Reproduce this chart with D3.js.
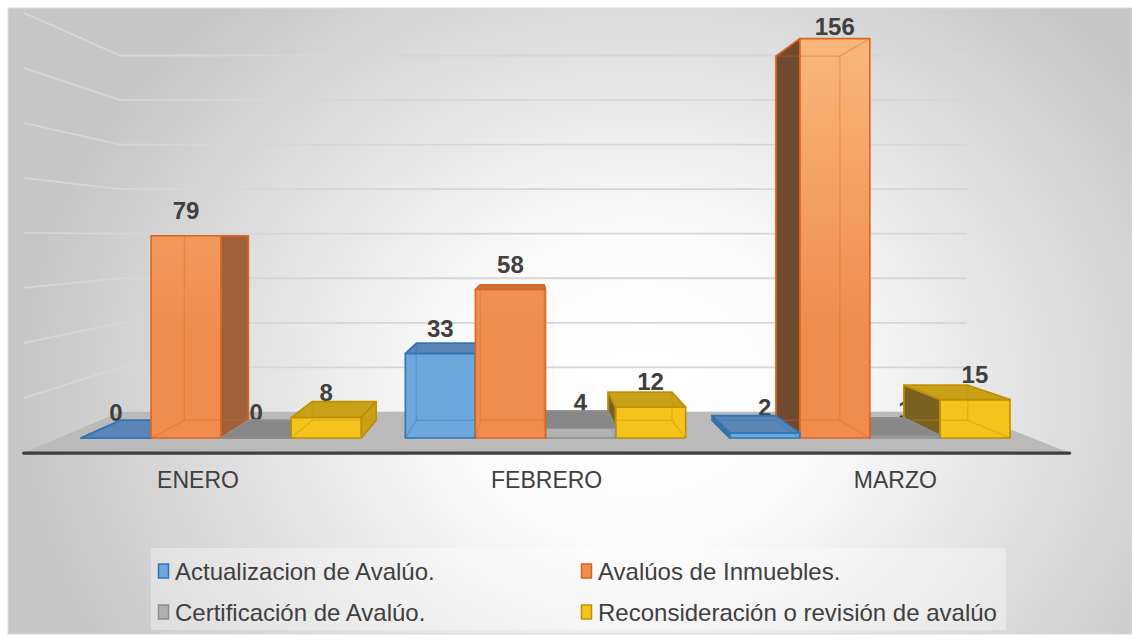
<!DOCTYPE html>
<html>
<head>
<meta charset="utf-8">
<script src="https://cdn.jsdelivr.net/npm/d3@7"></script>
<style>
  body { margin: 0; background: #fff; }
  text { font-family: "Liberation Sans", Arial, sans-serif; }
</style>
</head>
<body>
<script>
var months = ["ENERO", "FEBRERO", "MARZO"];
var seriesNames = [
    "Actualizacion de Avalúo.",
    "Avalúos de Inmuebles.",
    "Certificación de Avalúo.",
    "Reconsideración o revisión de avalúo"
];
var actualizacion = [0, 33, 2];
var avaluos = [79, 58, 156];
var certificacion = [0, 4, 1];
var reconsideracion = [8, 12, 15];
var gridTicks = [20, 40, 60, 80, 100, 120, 140, 160];

function init() {
    var w = 1132;
    var h = 642;
    var values = [actualizacion, avaluos, certificacion, reconsideracion];

    // face colours per series
    var styles = [
        { front: "#6ea7db", top: "#5a86b4", left: "#3f6f9e", right: "#4a7aa8", stroke: "#2e75b6" },
        { front: "url(#orangeGrad)", top: "#c8733d", left: "#72492e", right: "#a0613a", stroke: "#d9661f" },
        { front: "#b2b2b2", top: "#878787", left: "#6e6e6e", right: "#7d7d7d", stroke: "#8c8c8c" },
        { front: "#f6c31c", top: "#c9a01a", left: "#7b6122", right: "#c9a01a", stroke: "#bf9000" }
    ];

    // simple perspective: vanishing point and depth factors
    var vx = 530, vy = 237;
    var kFront = 1.075, kWall = 0.87, kBar = 0.912;
    function P(X, Y, k) { return [vx + k * (X - vx), vy + k * (Y - vy)]; }

    var x0 = d3.scaleBand().domain(months).range([59, 1032]);
    var gap = 44;
    var x1 = d3.scaleBand().domain(d3.range(4)).range([gap / 2, x0.bandwidth() - gap / 2]);
    var y = d3.scaleLinear().domain([0, 160]).range([438, 28.4]);

    var svg = d3.select("body")
        .append("svg")
        .attr("width", w)
        .attr("height", h);

    var defs = svg.append("defs");
    var bg = defs.append("radialGradient")
        .attr("id", "bgGrad")
        .attr("gradientUnits", "userSpaceOnUse")
        .attr("cx", 640).attr("cy", 390).attr("r", 620)
        .attr("gradientTransform", "translate(640,390) scale(1,0.85) translate(-640,-390)");
    bg.append("stop").attr("offset", "0").attr("stop-color", "#ffffff");
    bg.append("stop").attr("offset", "0.3").attr("stop-color", "#fbfbfb");
    bg.append("stop").attr("offset", "1").attr("stop-color", "#c6c6c6");

    var og = defs.append("linearGradient")
        .attr("id", "orangeGrad")
        .attr("gradientUnits", "userSpaceOnUse")
        .attr("x1", 0).attr("y1", 30).attr("x2", 0).attr("y2", 330);
    og.append("stop").attr("offset", "0").attr("stop-color", "#f9b87c");
    og.append("stop").attr("offset", "1").attr("stop-color", "#ef8c4e");

    svg.append("rect")
        .attr("x", 8).attr("y", 8)
        .attr("width", w - 8).attr("height", 626)
        .attr("fill", "url(#bgGrad)")
        .attr("stroke", "#d9d9d9");

    var line = d3.line();

    // gridlines on the back wall and the left wall
    var grid = svg.append("g")
        .attr("stroke", "#d6d6d6")
        .attr("stroke-width", 1.8)
        .attr("fill", "none");
    gridTicks.forEach(function (v) {
        grid.append("path").attr("d", line([
            P(59, y(v), kFront), P(59, y(v), kWall), P(1032, y(v), kWall)
        ]));
    });

    // floor
    svg.append("path")
        .attr("d", line([
            P(59, y(0), kFront), P(1032, y(0), kFront),
            P(1032, y(0), kWall), P(59, y(0), kWall)
        ]) + "Z")
        .attr("fill", "#bababa");
    svg.append("path")
        .attr("d", line([P(59, y(0), kFront), P(1032, y(0), kFront)]))
        .attr("stroke", "#3f3f3f")
        .attr("stroke-width", 3.2)
        .attr("stroke-linecap", "round");

    // category labels, placed on the front edge of the floor
    svg.selectAll(".cat")
        .data(months)
        .enter()
        .append("text")
        .attr("x", function (d) { return P(x0(d) + x0.bandwidth() / 2, 0, kFront)[0]; })
        .attr("y", 488)
        .attr("text-anchor", "middle")
        .attr("font-size", 23)
        .attr("fill", "#404040")
        .text(function (d) { return d; });

    // build bar list
    var bars = [];
    months.forEach(function (m, i) {
        for (var s = 0; s < 4; s++) {
            var X0 = x0(m) + x1(s);
            bars.push({ s: s, v: values[s][i], X0: X0, X1: X0 + x1.bandwidth() });
        }
    });

    // data labels (drawn first, bars may cover them as in the original)
    svg.selectAll(".lbl")
        .data(bars)
        .enter()
        .append("text")
        .attr("x", function (d) { return (d.X0 + d.X1) / 2; })
        .attr("y", function (d) { return Math.max(y(d.v) - 17, 35); })
        .attr("text-anchor", "middle")
        .attr("font-size", 24)
        .attr("font-weight", "bold")
        .attr("fill", "#404040")
        .text(function (d) { return d.v; });

    // painter order: bars furthest from the vanishing point first
    bars.sort(function (a, b) {
        return Math.abs((b.X0 + b.X1) / 2 - vx) - Math.abs((a.X0 + a.X1) / 2 - vx);
    });

    bars.forEach(function (d) {
        var st = styles[d.s];
        var Yt = y(d.v), Yb = y(0);
        var g = svg.append("g");
        var faces = [];
        faces.push({ pts: [P(d.X0, Yt, 1), P(d.X1, Yt, 1), P(d.X1, Yb, 1), P(d.X0, Yb, 1)], fill: st.front });
        if (Yt > vy) {
            faces.push({ pts: [P(d.X0, Yt, 1), P(d.X1, Yt, 1), P(d.X1, Yt, kBar), P(d.X0, Yt, kBar)], fill: st.top });
        }
        if (d.X1 < vx) {
            faces.push({ pts: [P(d.X1, Yt, 1), P(d.X1, Yt, kBar), P(d.X1, Yb, kBar), P(d.X1, Yb, 1)], fill: st.right });
        }
        if (d.X0 > vx) {
            faces.push({ pts: [P(d.X0, Yt, 1), P(d.X0, Yt, kBar), P(d.X0, Yb, kBar), P(d.X0, Yb, 1)], fill: st.left });
        }
        // opaque base
        faces.forEach(function (f) {
            g.append("path").attr("d", line(f.pts) + "Z").attr("fill", f.fill);
        });
        // hidden edges seen through the glassy faces
        var back = [P(d.X0, Yt, kBar), P(d.X1, Yt, kBar), P(d.X1, Yb, kBar), P(d.X0, Yb, kBar)];
        var fr = [P(d.X0, Yt, 1), P(d.X1, Yt, 1), P(d.X1, Yb, 1), P(d.X0, Yb, 1)];
        var hid = g.append("g")
            .attr("stroke", st.stroke)
            .attr("stroke-width", 1.4)
            .attr("stroke-opacity", 0.9)
            .attr("fill", "none");
        hid.append("path").attr("d", line(back) + "Z");
        for (var c = 0; c < 4; c++) {
            hid.append("path").attr("d", line([fr[c], back[c]]));
        }
        // translucent faces on top
        faces.forEach(function (f) {
            g.append("path")
                .attr("d", line(f.pts) + "Z")
                .attr("fill", f.fill)
                .attr("fill-opacity", 0.6)
                .attr("stroke", st.stroke)
                .attr("stroke-width", 1.6)
                .attr("stroke-linejoin", "round");
        });
    });

    // legend
    var legend = svg.append("g");
    legend.append("rect")
        .attr("x", 151).attr("y", 548)
        .attr("width", 855).attr("height", 82)
        .attr("fill", "#ffffff")
        .attr("fill-opacity", 0.35);
    var lx = [158, 581], ly = [571, 612];
    var item = legend.selectAll(".item")
        .data(seriesNames)
        .enter()
        .append("g")
        .attr("transform", function (d, i) {
            return "translate(" + lx[i % 2] + "," + ly[Math.floor(i / 2)] + ")";
        });
    item.append("rect")
        .attr("x", 0.5).attr("y", -7)
        .attr("width", 10).attr("height", 14)
        .attr("fill", function (d, i) { return i === 1 ? "#ef8c4e" : styles[i].front; })
        .attr("stroke", function (d, i) { return styles[i].stroke; })
        .attr("stroke-width", 1.5);
    item.append("text")
        .attr("x", 17)
        .attr("y", 8.5)
        .attr("font-size", 24)
        .attr("fill", "#404040")
        .text(function (d) { return d; });
}

window.onload = init;
</script>
</body>
</html>
